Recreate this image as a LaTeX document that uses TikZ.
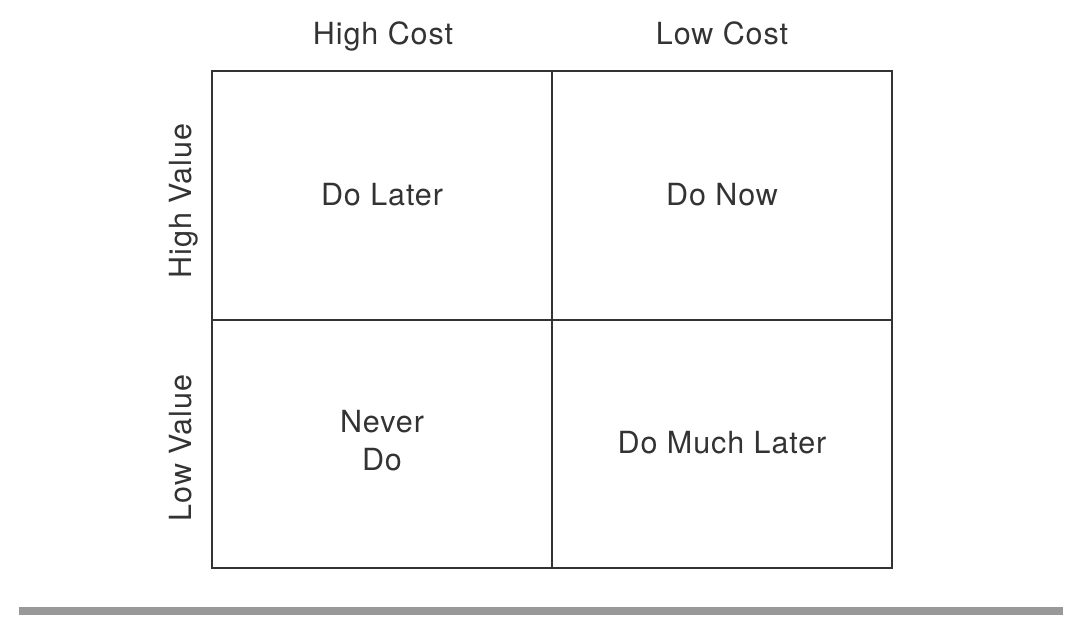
\documentclass[tikz,border=0pt]{standalone}
\usepackage{fontspec}
\setmainfont{TeX Gyre Heros}[LetterSpace=3]
\begin{document}
\begin{tikzpicture}[x=1pt,y=-1pt,
  grid/.style={draw=black!80, line width=2pt},
  lbl/.style={text=black!80, font=\fontsize{30.5}{38}\selectfont, inner sep=0pt, anchor=base, align=center}]
\useasboundingbox (0,0) rectangle (1081,631);
% quadrant grid
\coordinate (tl) at (212,71);
\coordinate (br) at (892,568);
\coordinate (tm) at (552,71);
\coordinate (bm) at (552,568);
\coordinate (ml) at (212,320);
\coordinate (mr) at (892,320);
\draw[grid] (tl) rectangle (br);
\draw[grid] (tm) -- (bm);
\draw[grid] (ml) -- (mr);
% column headings
\node[lbl] (hc) at (383,45) {High Cost};
\node[lbl] (lc) at (722,45) {Low Cost};
% row headings
\node[lbl, rotate=90] (hv) at (191,201) {High Value};
\node[lbl, rotate=90] (lv) at (191,448) {Low Value};
% quadrant texts
\node[lbl] (q1) at (382,205) {Do Later};
\node[lbl] (q2) at (722,205) {Do Now};
\node[lbl] (q3a) at (382,432) {Never};
\node[lbl] (q3b) at (382,470) {Do};
\node[lbl] (q4) at (722,453) {Do Much Later};
% rule beneath
\fill[black!40] (19,607) rectangle (1063,615);
\end{tikzpicture}
\end{document}
